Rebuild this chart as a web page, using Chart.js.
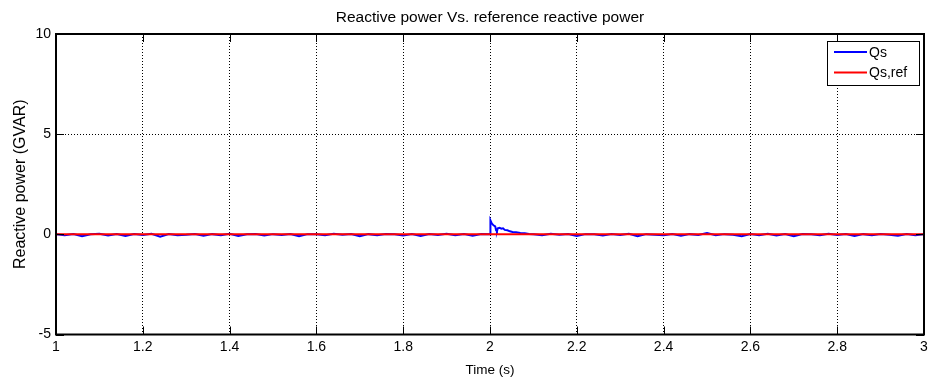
<!DOCTYPE html>
<html>
<head>
<meta charset="utf-8">
<title>Reactive power</title>
<script src="https://cdn.jsdelivr.net/npm/chart.js@4/dist/chart.umd.min.js"></script>
<style>
  html, body { margin: 0; padding: 0; background: #fff; }
  #wrap { width: 933px; height: 378px; }
</style>
</head>
<body>
<div id="wrap"><canvas id="qChart" width="933" height="378"></canvas></div>
<script>
// measured reactive power Qs (GVAR) against time (s)
var timeQs = [1.00,1.02,1.04,1.06,1.08,1.10,1.12,1.14,1.16,1.18,
  1.20,1.22,1.24,1.26,1.28,1.30,1.32,1.34,1.36,1.38,
  1.40,1.42,1.44,1.46,1.48,1.50,1.52,1.54,1.56,1.58,
  1.60,1.62,1.64,1.66,1.68,1.70,1.72,1.74,1.76,1.78,
  1.80,1.82,1.84,1.86,1.88,1.90,1.92,1.94,1.96,1.98,
  2.000,2.001,2.004,2.008,2.012,2.014,2.016,2.018,2.022,2.026,
  2.030,2.034,2.040,2.046,2.052,2.060,2.070,2.080,2.090,
  2.10,2.12,2.14,2.16,2.18,2.20,2.22,2.24,2.26,2.28,
  2.30,2.32,2.34,2.36,2.38,2.40,2.42,2.44,2.46,2.48,
  2.50,2.52,2.54,2.56,2.58,2.60,2.62,2.64,2.66,2.68,
  2.70,2.72,2.74,2.76,2.78,2.80,2.82,2.84,2.86,2.88,
  2.90,2.92,2.94,2.96,2.98,3.00];
var valuesQs = [0.01,-0.04,0.02,-0.1,0.0,0.03,-0.06,0.01,-0.08,0.02,
  -0.03,0.03,-0.12,0.01,-0.05,-0.02,0.02,-0.07,0.01,-0.04,
  0.03,-0.08,0.0,0.02,-0.06,0.01,-0.03,0.02,-0.1,0.01,
  0.0,-0.05,0.03,-0.02,0.02,-0.09,0.01,-0.04,0.02,0.0,
  -0.06,0.01,-0.08,0.02,-0.03,0.03,-0.05,0.01,-0.07,0.02,
  0.0,0.7,0.55,0.45,0.4,0.2,0.15,0.3,0.33,0.28,
  0.3,0.22,0.2,0.15,0.12,0.1,0.07,0.05,0.02,
  0.0,-0.04,0.03,-0.02,0.02,-0.08,0.01,0.0,-0.06,0.02,
  -0.03,0.03,-0.09,0.01,-0.02,-0.05,0.02,-0.07,0.01,-0.03,
  0.06,-0.05,0.01,-0.02,-0.1,0.02,-0.04,0.03,-0.06,0.01,
  -0.1,0.02,0.0,-0.05,0.03,-0.03,0.02,-0.08,0.01,-0.04,
  0.02,-0.02,-0.07,0.01,-0.05,0.01];

// reference reactive power Qs,ref
var timeRef = [1, 3];
var valuesRef = [0, 0];

var xTicks = [1, 1.2, 1.4, 1.6, 1.8, 2, 2.2, 2.4, 2.6, 2.8, 3];
var yTicks = [-5, 0, 5, 10];

var seriesNames = ['Qs', 'Qs,ref'];
var seriesColors = ['#0000ff', '#ff0000'];
var chartTitle = 'Reactive power Vs. reference reactive power';

var FONT = '"Liberation Sans", Arial, sans-serif';

function pairs(xs, ys) {
  return xs.map(function (x, i) { return { x: x, y: ys[i] }; });
}

// matlab style frame, inward ticks, legend box and title
var matlabFrame = {
  id: 'matlabFrame',
  afterDatasetsDraw: function (chart) {
    var c = chart.ctx, a = chart.chartArea;
    var xs = chart.scales.x, ys = chart.scales.y;
    c.save();
    c.strokeStyle = '#000';
    c.lineWidth = 1;
    c.beginPath();
    xTicks.forEach(function (t) {
      var px = Math.round(xs.getPixelForValue(t)) + 0.5;
      c.moveTo(px, a.bottom); c.lineTo(px, a.bottom - 8);
      c.moveTo(px, a.top); c.lineTo(px, a.top + 8);
    });
    yTicks.forEach(function (t) {
      var py = Math.round(ys.getPixelForValue(t)) + 0.5;
      c.moveTo(a.left, py); c.lineTo(a.left + 8, py);
      c.moveTo(a.right, py); c.lineTo(a.right - 8, py);
    });
    c.stroke();
    c.lineWidth = 2;
    c.strokeRect(a.left, a.top, a.right - a.left, a.bottom - a.top);

    // legend
    var lx = 827, ly = 41, lw = 92, lh = 44;
    c.fillStyle = '#fff';
    c.fillRect(lx, ly, lw, lh);
    c.lineWidth = 1;
    c.strokeStyle = '#000';
    c.strokeRect(lx + 0.5, ly + 0.5, lw, lh);
    c.font = '14px ' + FONT;
    c.textBaseline = 'middle';
    seriesNames.forEach(function (n, i) {
      var yy = ly + 11 + i * 20.5;
      c.strokeStyle = seriesColors[i];
      c.lineWidth = 2;
      c.beginPath();
      c.moveTo(lx + 7, yy); c.lineTo(lx + 40, yy);
      c.stroke();
      c.fillStyle = '#000';
      c.fillText(n, lx + 42, yy + 1);
    });

    // title
    c.font = '15.5px ' + FONT;
    c.textAlign = 'center';
    c.textBaseline = 'middle';
    c.fillStyle = '#000';
    c.fillText(chartTitle, (a.left + a.right) / 2, 18);
    c.restore();
  }
};

var ctx = document.getElementById('qChart').getContext('2d');
var qChart = new Chart(ctx, {
  type: 'line',
  data: {
    datasets: [{
      label: seriesNames[0],
      data: pairs(timeQs, valuesQs),
      borderColor: seriesColors[0],
      borderWidth: 2,
      pointRadius: 0,
      fill: false,
      tension: 0,
      order: 1
    }, {
      label: seriesNames[1],
      data: pairs(timeRef, valuesRef),
      borderColor: seriesColors[1],
      borderWidth: 2,
      pointRadius: 0,
      fill: false,
      tension: 0,
      order: 0
    }]
  },
  options: {
    responsive: false,
    animation: false,
    layout: { padding: { top: 34, right: 9, left: 0, bottom: 0 } },
    plugins: {
      legend: { display: false },
      title: { display: false },
      tooltip: { enabled: false }
    },
    scales: {
      x: {
        type: 'linear',
        min: 1,
        max: 3,
        afterBuildTicks: function (s) { s.ticks = xTicks.map(function (v) { return { value: v }; }); },
        afterFit: function (s) { s.height = 43.5; },
        ticks: {
          color: '#000',
          font: { family: FONT, size: 14 },
          padding: 4,
          maxRotation: 0,
          autoSkip: false,
          callback: function (v) { return String(Math.round(v * 10) / 10); }
        },
        grid: { color: '#000', lineWidth: 1, drawTicks: false },
        border: { display: false, dash: [1, 2] },
        title: {
          display: true,
          text: 'Time (s)',
          color: '#000',
          font: { family: FONT, size: 13.5 },
          padding: { top: 0, bottom: 0 }
        }
      },
      y: {
        type: 'linear',
        min: -5,
        max: 10,
        afterBuildTicks: function (s) { s.ticks = yTicks.map(function (v) { return { value: v }; }); },
        afterFit: function (s) { s.width = 56; },
        ticks: {
          color: '#000',
          font: { family: FONT, size: 14 },
          padding: 5
        },
        grid: { color: '#000', lineWidth: 1, drawTicks: false },
        border: { display: false, dash: [1, 2] },
        title: {
          display: true,
          text: 'Reactive power (GVAR)',
          color: '#000',
          font: { family: FONT, size: 16 },
          padding: { top: 11, bottom: 0 }
        }
      }
    }
  },
  plugins: [matlabFrame]
});
</script>
</body>
</html>
